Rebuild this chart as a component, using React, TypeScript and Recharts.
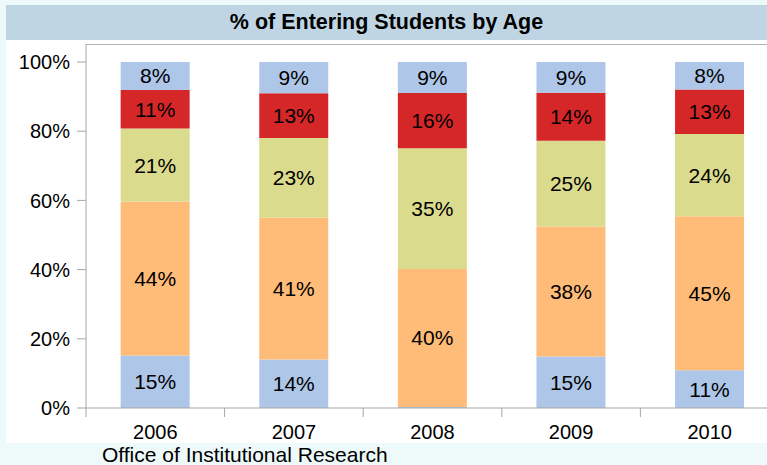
import React from "react";
import { BarChart, Bar, XAxis, YAxis, LabelList } from "recharts";

const years = ["2006", "2007", "2008", "2009", "2010"];
const ageA = [15, 14, 0.3, 15, 11];
const ageB = [44, 41, 40, 38, 45];
const ageC = [21, 23, 35, 25, 24];
const ageD = [11, 13, 16, 14, 13];
const ageE = [8, 9, 9, 9, 8];
const yTicks = [0, 0.2, 0.4, 0.6, 0.8, 1];

const data = years.map((year, i) => ({
  year,
  a: ageA[i],
  b: ageB[i],
  c: ageC[i],
  d: ageD[i],
  e: ageE[i],
}));

const series = [
  { key: "a", color: "#aec6e8" },
  { key: "b", color: "#ffbb78" },
  { key: "c", color: "#dbdb8d" },
  { key: "d", color: "#d62728" },
  { key: "e", color: "#aec6e8" },
];

const FONT = "'Liberation Sans', Arial, sans-serif";
const CHART_W = 781;
const PLOT_LEFT = 86;
const BAND = (CHART_W - 2 - PLOT_LEFT) / years.length;

// category label in the middle, tick mark on the left boundary of the band
const YearTick = (props: any) => {
  const { x, y, payload } = props;
  const bx = x - BAND / 2;
  return (
    <g>
      <line x1={bx} y1={y} x2={bx} y2={y + 9} stroke="#a6a6a6" />
      <text
        x={x}
        y={y + 31}
        textAnchor="middle"
        fontSize={20}
        fontFamily={FONT}
        fill="#000"
      >
        {payload.value}
      </text>
    </g>
  );
};

const pct = (v: any) => (Number(v) < 1 ? "" : `${v}%`);

export default function App() {
  return (
    <div
      style={{
        position: "absolute",
        left: 0,
        top: 0,
        width: 767,
        height: 465,
        overflow: "hidden",
        background: "#eefafa",
        fontFamily: FONT,
      }}
    >
      <div
        style={{
          position: "absolute",
          left: 6,
          top: 5,
          width: 761,
          height: 35,
          background: "#bfd5e3",
          textAlign: "center",
          lineHeight: "35px",
          fontWeight: "bold",
          fontSize: 21.5,
          color: "#000",
        }}
      >
        % of Entering Students by Age
      </div>
      <div
        style={{
          position: "absolute",
          left: 6,
          top: 40,
          width: 761,
          height: 403,
          background: "#fff",
          overflow: "hidden",
        }}
      >
        {/* top edge of the plot frame */}
        <div
          style={{
            position: "absolute",
            left: PLOT_LEFT - 6,
            top: 4,
            width: 700,
            height: 1,
            background: "#b3b3b3",
          }}
        />
        <div style={{ position: "absolute", left: -6, top: 0 }}>
          <BarChart
            width={CHART_W}
            height={403}
            data={data}
            stackOffset="expand"
            barCategoryGap="25%"
            margin={{ top: 4, right: 2, left: 0, bottom: 0 }}
          >
            <XAxis
              dataKey="year"
              height={35}
              axisLine={{ stroke: "#a6a6a6" }}
              tickLine={false}
              tickSize={0}
              tickMargin={0}
              tick={<YearTick />}
              interval={0}
            />
            <YAxis
              type="number"
              ticks={yTicks}
              padding={{ top: 18, bottom: 0 }}
              width={PLOT_LEFT}
              axisLine={{ stroke: "#a6a6a6" }}
              tickLine={{ stroke: "#a6a6a6" }}
              tickSize={9}
              tickMargin={7}
              tick={{ fontSize: 20, fill: "#000", fontFamily: FONT }}
              tickFormatter={(v: number) => `${Math.round(v * 100)}%`}
            />
            {series.map((s) => (
              <Bar
                key={s.key}
                dataKey={s.key}
                stackId="age"
                fill={s.color}
                isAnimationActive={false}
              >
                <LabelList
                  dataKey={s.key}
                  position="center"
                  formatter={pct}
                  fill="#000"
                  fontSize={21}
                  fontFamily={FONT}
                />
              </Bar>
            ))}
          </BarChart>
        </div>
      </div>
      <div
        style={{
          position: "absolute",
          left: 102,
          top: 443,
          fontSize: 21,
          lineHeight: "23px",
          color: "#000",
        }}
      >
        Office of Institutional Research
      </div>
    </div>
  );
}
